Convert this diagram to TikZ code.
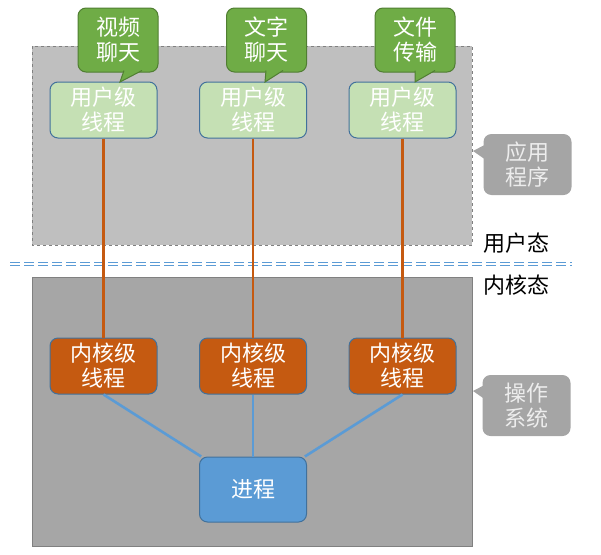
\documentclass[tikz,border=0pt]{standalone}
\usepackage{fontspec}
\setmainfont{Noto Sans CJK SC}
\usetikzlibrary{positioning}
\definecolor{userbg}{HTML}{BFBFBF}
\definecolor{kernbg}{HTML}{A6A6A6}
\definecolor{ulight}{HTML}{C5E0B4}
\definecolor{edgeblue}{HTML}{41719C}
\definecolor{kthread}{HTML}{C55A11}
\definecolor{procblue}{HTML}{5B9BD5}
\definecolor{callgreen}{HTML}{6FAC46}
\definecolor{calledge}{HTML}{507E32}
\definecolor{tipgray}{HTML}{A5A5A5}

\begin{document}
\begin{tikzpicture}[x=1pt,y=-1pt,
  thread/.style={draw=edgeblue,line width=1pt,rounded corners=8pt,minimum width=107pt,minimum height=56pt,inner sep=0pt,align=center,text=white,font=\fontsize{22}{25}\selectfont},
  bubble/.style={fill=callgreen,draw=calledge,line width=1pt,rounded corners=8pt,minimum width=80pt,minimum height=64pt,inner sep=0pt,align=center,text=white,font=\fontsize{22}{25}\selectfont},
  graytip/.style={fill=tipgray,rounded corners=8pt,minimum width=88pt,minimum height=61pt,inner sep=0pt,align=center,text=white!93!black,font=\fontsize{22}{25}\selectfont},
  mode/.style={anchor=west,inner sep=0pt,font=\fontsize{22}{25}\selectfont},
  link/.style={line width=2.6pt}]
\useasboundingbox (0,0) rectangle (601,554);
\draw[dashed,gray,fill=userbg] (32,46) rectangle (472,245);
\draw[gray,fill=kernbg] (32,277) rectangle (472,546);
\draw[procblue,line width=1.2pt,double=white,double distance=2.2pt,dash pattern=on 10pt off 4pt] (10,264)--(572,264);
\node[mode] (umode) at (483,243) {用户态};
\node[mode] (kmode) at (483,285) {内核态};
% threads and process
\foreach \i/\x in {1/103.5,2/253,3/402.5}{
  \node[thread,fill=ulight] (u\i) at (\x,110) {用户级\\线程};
  \node[thread,fill=kthread] (k\i) at (\x,366) {内核级\\线程};
  \draw[link,kthread] (u\i)--(k\i);}
\node[thread,fill=procblue,minimum height=65pt] (proc) at (253,489.5) {进程};
\draw[link,procblue] (k1.south)--(proc); \draw[link,procblue] (k2)--(proc); \draw[link,procblue] (k3.south)--(proc);
% green callouts
\node[bubble] (c1) at (118,40) {视频\\聊天};
\node[bubble] (c2) at (266.5,40) {文字\\聊天};
\node[bubble] (c3) at (415,40) {文件\\传输};
\foreach \a/\b/\t in {124/142/120,266/283/265,415/435/415}{
  \fill[callgreen] (\a,70.5)--(\t,82)--(\b,70.5)--cycle;
  \draw[calledge,line width=1pt] (\a,70.5)--(\t,82)--(\b,70.5);}
% gray callouts
\node[graytip] (app) at (527.5,164.5) {应用\\程序};
\node[graytip] (os) at (526.5,405.5) {操作\\系统};
\fill[tipgray] (484.5,145)--(473,151)--(484.5,159)--cycle;
\fill[tipgray] (484.5,385)--(473,391)--(484.5,399)--cycle;
\end{tikzpicture}
\end{document}
